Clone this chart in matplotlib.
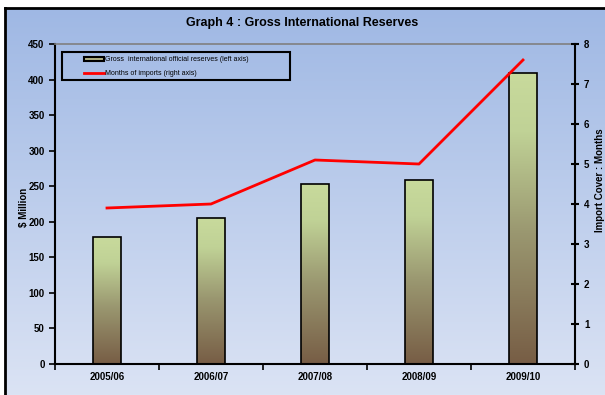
import numpy as np
import matplotlib.pyplot as plt
from matplotlib.colors import LinearSegmentedColormap
from matplotlib.patches import Patch, Rectangle

years = ['2005/06', '2006/07', '2007/08', '2008/09', '2009/10']
reserves = [178, 205, 253, 259, 409]          # $ million, left axis
import_months = [3.9, 4.0, 5.1, 5.0, 7.6]     # months of imports, right axis

plt.rcParams['font.family'] = ['Liberation Sans', 'DejaVu Sans']
plt.rcParams['font.weight'] = 'bold'
plt.rcParams['axes.labelweight'] = 'bold'

fig = plt.figure(figsize=(6.05, 3.95), dpi=100)

# chart area background with vertical gradient and black frame
bg = fig.add_axes([5 / 605, 0, 1 - 5 / 605, 1 - 8 / 395], zorder=0)
bg_cmap = LinearSegmentedColormap.from_list('bg', ['#dbe3f4', '#9fb8e4'])
bg.imshow(np.linspace(0, 1, 256).reshape(-1, 1), cmap=bg_cmap, origin='lower',
          aspect='auto', extent=[0, 1, 0, 1])
bg.set_xlim(0, 1)
bg.set_ylim(0, 1)
bg.set_xticks([])
bg.set_yticks([])
for side in ['right', 'bottom']:
    bg.spines[side].set_visible(False)
for side in ['left', 'top']:
    bg.spines[side].set_linewidth(2)

ax = fig.add_axes([55 / 605, 1 - 364 / 395, 520 / 605, 320 / 395], zorder=1)
ax.patch.set_alpha(0)
x = np.arange(len(years))

bar_cmap = LinearSegmentedColormap.from_list(
    'bar', [(0, '#775d45'), (0.45, '#9a9770'), (0.8, '#c0d296'), (1, '#c8da9c')])
bars = ax.bar(x, reserves, width=0.26, facecolor='none', edgecolor='black',
              linewidth=1.2, zorder=3)
grad = np.linspace(0, 1, 256).reshape(-1, 1)
for b in bars:
    x0, w, h = b.get_x(), b.get_width(), b.get_height()
    im = ax.imshow(grad, cmap=bar_cmap, origin='lower', aspect='auto',
                   extent=[x0, x0 + w, 0, h], zorder=2)
    im.set_clip_path(b)

ax.set_xlim(-0.5, len(years) - 0.5)
ax.set_ylim(0, 450)
ax.set_yticks(range(0, 451, 50))
ax.set_xticks(x)
ax.set_xticklabels(years, fontsize=7)
ax.set_xticks(np.arange(-0.5, len(years), 1), minor=True)
ax.tick_params(axis='x', which='major', length=0, pad=6)
ax.tick_params(axis='x', which='minor', length=4, width=1.2, direction='out')
ax.tick_params(axis='y', labelsize=7, length=4, width=1.2, direction='out')
ax.set_ylabel('$ Million', fontsize=7)
ax.yaxis.set_label_coords(-0.05, 0.49)
ax.spines['top'].set_color('#808080')
ax.spines['top'].set_linewidth(1.2)
ax.spines['left'].set_linewidth(1.5)
ax.spines['bottom'].set_linewidth(1.5)
ax.spines['right'].set_visible(False)

ax2 = ax.twinx()
line, = ax2.plot(x, import_months, color='#ff0000', linewidth=2, zorder=4)
ax2.set_ylim(0, 8)
ax2.set_yticks(range(0, 9))
ax2.tick_params(axis='y', labelsize=7, length=6, width=1.5, direction='inout')
ax2.spines['right'].set_linewidth(1.5)
for side in ['top', 'left', 'bottom']:
    ax2.spines[side].set_visible(False)
ax2.set_ylabel('Import Cover : Months', fontsize=7)
ax2.yaxis.set_label_coords(1.039, 0.575)

# legend: black frame with the entries indented inside it
ax2.add_patch(Rectangle((0.0135, 0.8875), 0.4385, 0.0875, transform=ax2.transAxes,
                        facecolor='none', edgecolor='black', linewidth=1.5,
                        zorder=5, clip_on=False))
bar_handle = Patch(facecolor='#b4b487', edgecolor='black', linewidth=1.5)
leg = ax2.legend([bar_handle, line],
                 ['Gross  international official reserves (left axis)',
                  'Months of imports (right axis)'],
                 loc='upper left', bbox_to_anchor=(0.056, 0.962),
                 frameon=False, labelspacing=1.0,
                 handlelength=2.9, handleheight=0.45, handletextpad=0.15,
                 borderaxespad=0, borderpad=0,
                 prop={'weight': 'normal', 'size': 5})
leg.set_zorder(6)

fig.text(0.5, 1 - 23 / 395, 'Graph 4 : Gross International Reserves',
         ha='center', va='center', fontsize=9, fontweight='bold')

fig.savefig('out.png', dpi=100)
